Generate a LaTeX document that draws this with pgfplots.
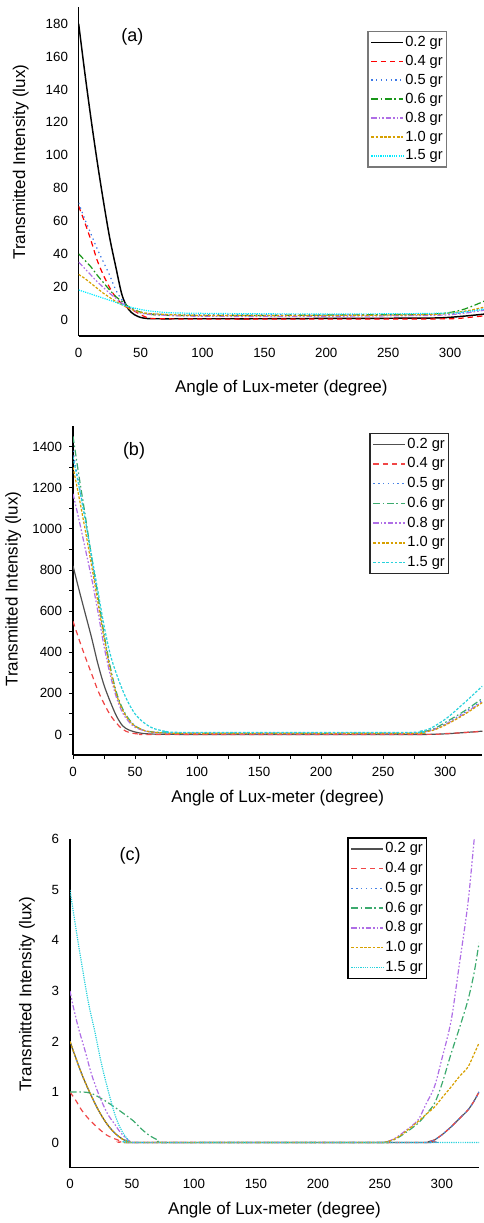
\documentclass[border=0pt]{standalone}
\usepackage{pgfplots}
\pgfplotsset{compat=1.18}
\usepackage{fontspec}
\setmainfont{Liberation Sans}

\definecolor{redA}{RGB}{255,0,0}
\definecolor{blueA}{RGB}{60,120,230}
\definecolor{greenA}{RGB}{25,150,25}
\definecolor{purpA}{RGB}{175,110,230}
\definecolor{orA}{RGB}{215,160,0}
\definecolor{cyA}{RGB}{0,235,255}
\definecolor{grayB}{RGB}{80,80,80}
\definecolor{redB}{RGB}{240,70,70}
\definecolor{blueB}{RGB}{70,130,230}
\definecolor{greenB}{RGB}{60,170,110}
\definecolor{cyB}{RGB}{40,210,220}

\pgfplotsset{
  mybase/.style={
    scale only axis, axis lines*=left, xmin=0, clip=true,
    xtick={0,50,...,300},
    /pgf/number format/assume math mode=true,
    /pgf/number format/1000 sep={},
    ticklabel style={font=\fontsize{10}{12}\selectfont},
    label style={font=\fontsize{12.75}{15}\selectfont},
    every axis plot/.append style={line width=0.9pt, smooth, tension=0.5},
    legend cell align=left,
    legend image code/.code={\draw[#1, line width=1.1pt] (0pt,0pt) -- (24pt,0pt);},
    legend style={font=\fontsize{11}{13}\selectfont, inner sep=2pt,
      row sep=1.8pt, nodes={inner sep=0.9pt, text height=8.3pt, text depth=2.3pt},
      anchor=north east},
  },
  s02/.style={solid},
  s04/.style={dash pattern=on 4pt off 3pt},
  s05/.style={dash pattern=on 1pt off 2.6pt},
  s06/.style={dash pattern=on 5pt off 2pt on 1.2pt off 2pt},
  s08/.style={dash pattern=on 4pt off 1.5pt on 1.2pt off 1.5pt on 1.2pt off 1.5pt},
  s10/.style={dash pattern=on 2pt off 1.2pt},
  s15/.style={dash pattern=on 0.9pt off 0.8pt},
}

\begin{document}
\begin{tikzpicture}
\useasboundingbox (0,0) rectangle (363pt,-917.25pt);

% ---------------- (a)
\begin{axis}[mybase,
  at={(59pt,-252pt)}, anchor=south west,
  width=304pt, height=246.5pt,
  xmax=327.4, ymin=-10, ymax=190,
  ytick={0,20,...,180},
  major tick length=0pt, minor tick num=0,
  axis line style={line width=1.1pt, black},
  yticklabel style={xshift=-4.5pt},
  xticklabel style={yshift=-5.7pt},
  xlabel={Angle of Lux-meter (degree)},
  ylabel={Transmitted Intensity (lux)},
  xlabel style={at={(axis description cs:0.5,-0.158)}, anchor=center},
  ylabel style={at={(axis description cs:-0.143,0.529)}, anchor=center},
  legend style={at={(axis description cs:0.9095,0.9288)}, draw={rgb,255:red,120;green,120;blue,120}, line width=1pt},
]
\addplot[black, s02, line width=1.1pt] coordinates {(0,180)(5,150)(10,122)(15,96)(20,72)(25,50)(30,32)(35,15)(40,6.5)(45,3)(50,1.3)(55,0.7)(60,0.5)(100,0.5)(150,0.5)(200,0.7)(250,0.8)(290,1)(310,2)(330,3.5)};
\addlegendentry{0.2 gr}
\addplot[redA, s04] coordinates {(0,69)(5,59)(10,48)(15,36)(20,27)(25,19.5)(30,13.5)(35,9.5)(40,7)(45,5.2)(50,3)(55,1.3)(60,0.6)(100,0.3)(150,0.3)(200,0.3)(250,0.3)(300,0.5)(315,1.3)(330,2.5)};
\addlegendentry{0.4 gr}
\addplot[blueA, s05] coordinates {(0,71)(5,61)(10,52)(15,43)(20,35)(25,27)(30,18)(35,12)(40,8)(45,6)(50,4.5)(60,3.5)(80,3)(150,3)(250,3)(300,3.5)(315,5)(330,7)};
\addlegendentry{0.5 gr}
\addplot[greenA, s06] coordinates {(0,40)(5,36)(10,32)(15,27)(20,22.5)(25,18)(30,14)(35,11)(40,8)(45,6)(50,4.5)(60,3)(80,2.5)(150,2.5)(250,3)(290,3.5)(310,6)(330,12)};
\addlegendentry{0.6 gr}
\addplot[purpA, s08] coordinates {(0,35)(5,31)(10,27)(15,23)(20,19.5)(25,16)(30,13)(35,10)(40,7.5)(45,5.5)(50,4)(60,3)(100,2)(200,2)(280,2.5)(300,3)(315,4.2)(330,6)};
\addlegendentry{0.8 gr}
\addplot[orA, s10] coordinates {(0,27.5)(5,25)(10,22)(15,19)(20,16)(25,13.5)(30,11)(35,9)(40,7)(45,5.5)(50,4.5)(60,3.5)(100,2.5)(200,2.5)(280,3)(300,4)(315,5.5)(330,8)};
\addlegendentry{1.0 gr}
\addplot[cyA, s15] coordinates {(0,18)(10,15.5)(20,13)(30,10.5)(37,8.5)(45,7)(51,6)(60,5)(80,4)(150,3.5)(250,3.5)(300,4)(315,5)(330,6.5)};
\addlegendentry{1.5 gr}
\end{axis}

% ---------------- (b)
\begin{axis}[mybase,
  at={(54.75pt,-566.25pt)}, anchor=south west,
  width=307pt, height=246.75pt,
  xmax=330, ymin=-100, ymax=1500,
  ytick={0,200,...,1400},
  minor tick num=1,
  tick align=outside, major tick length=3pt, minor tick length=3pt,
  tick style={black, line width=0.6pt},
  axis line style={line width=0.8pt, black},
  yticklabel style={xshift=-1.7pt},
  xticklabel style={yshift=-2.4pt},
  xlabel={Angle of Lux-meter (degree)},
  ylabel={Transmitted Intensity (lux)},
  xlabel style={at={(axis description cs:0.5,-0.1297)}, anchor=center},
  ylabel style={at={(axis description cs:-0.1459,0.504)}, anchor=center},
  legend style={at={(axis description cs:0.9194,0.9796)}, draw={rgb,255:red,40;green,40;blue,40}, line width=0.9pt, row sep=2.4pt},
]
\addplot[grayB, s02] coordinates {(0,820)(5,700)(10,585)(15,470)(20,345)(25,240)(30,160)(35,90)(40,42)(45,22)(50,12)(55,6)(60,3)(70,1)(100,0)(200,0)(280,0)(300,3)(315,9)(330,16)};
\addlegendentry{0.2 gr}
\addplot[redB, s04] coordinates {(0,550)(5,460)(10,375)(15,295)(20,215)(25,150)(30,95)(35,55)(40,25)(45,10)(50,4)(55,1)(60,0)(150,0)(280,0)(300,4)(315,9)(330,15)};
\addlegendentry{0.4 gr}
\addplot[blueB, s05] coordinates {(0,1380)(5,1210)(10,1040)(15,850)(20,665)(25,480)(30,320)(35,200)(40,120)(45,72)(50,40)(60,15)(75,8)(100,6)(270,6)(280,12)(290,24)(300,50)(315,105)(330,165)};
\addlegendentry{0.5 gr}
\addplot[greenB, s06] coordinates {(0,1450)(5,1250)(10,1060)(15,860)(20,680)(25,490)(30,330)(35,205)(40,125)(45,75)(50,42)(55,25)(60,15)(75,8)(100,6)(270,6)(280,12)(290,25)(300,58)(315,112)(330,175)};
\addlegendentry{0.6 gr}
\addplot[purpA, s08] coordinates {(0,1170)(5,1040)(10,900)(15,760)(20,600)(25,430)(30,290)(35,180)(40,105)(45,62)(50,35)(60,14)(75,6)(100,4)(270,4)(280,10)(290,22)(300,48)(315,100)(330,160)};
\addlegendentry{0.8 gr}
\addplot[orA, s10] coordinates {(0,1300)(5,1150)(10,990)(15,820)(20,645)(25,470)(30,315)(35,195)(40,118)(45,70)(50,40)(60,15)(75,7)(100,5)(270,5)(280,10)(290,20)(300,45)(315,95)(330,155)};
\addlegendentry{1.0 gr}
\addplot[cyB, s10] coordinates {(0,1350)(5,1200)(10,1040)(15,870)(20,700)(25,530)(30,390)(35,295)(40,215)(45,150)(50,100)(55,68)(60,45)(65,29)(75,15)(90,10)(270,10)(280,16)(288,29)(301,78)(315,151)(330,235)};
\addlegendentry{1.5 gr}
\end{axis}

% ---------------- (c)
\begin{axis}[mybase,
  at={(52.5pt,-875.8pt)}, anchor=south west,
  width=306.75pt, height=246.3pt,
  xmax=330, ymin=-0.5, ymax=6,
  ytick={0,1,...,6},
  major tick length=0pt, minor tick num=0,
  axis line style={line width=1pt, black},
  yticklabel style={xshift=-4.7pt},
  xticklabel style={yshift=-5.4pt},
  xlabel={Angle of Lux-meter (degree)},
  ylabel={Transmitted Intensity (lux)},
  xlabel style={at={(axis description cs:0.5,-0.1287)}, anchor=center},
  ylabel style={at={(axis description cs:-0.105,0.528)}, anchor=center},
  legend style={at={(axis description cs:0.8736,1.006)}, draw=black, line width=0.9pt, row sep=2.4pt},
]
\addplot[grayB, s02] coordinates {(0,2)(4,1.72)(9.4,1.36)(15,1.04)(22.9,0.64)(30,0.36)(36.4,0.18)(42.8,0.06)(48,0.01)(50,0)(150,0)(285,0)(290,0.02)(294,0.05)(300,0.15)(307.5,0.31)(314,0.47)(321,0.64)(326,0.82)(330,1.0)};
\addlegendentry{0.2 gr}
\addplot[redB, s04] coordinates {(0,1)(5,0.82)(9.4,0.64)(15,0.47)(22.9,0.28)(30,0.14)(36.4,0.07)(42,0.02)(46,0)(150,0)(285,0)(290,0.02)(294,0.05)(300,0.15)(307.5,0.31)(314,0.47)(321,0.64)(326,0.82)(330,1.0)};
\addlegendentry{0.4 gr}
\addplot[blueB, s05] coordinates {(0,2)(4,1.72)(9.4,1.36)(15,1.04)(22.9,0.64)(30,0.36)(36.4,0.18)(42.8,0.06)(48,0.01)(50,0)(150,0)(285,0)(290,0.02)(294,0.05)(300,0.15)(307.5,0.31)(314,0.47)(321,0.64)(326,0.82)(330,1.0)};
\addlegendentry{0.5 gr}
\addplot[greenB, s06] coordinates {(0,1.0)(5,1.0)(10,1.0)(17.5,0.97)(28,0.83)(36,0.7)(44.5,0.55)(51,0.43)(58,0.26)(64,0.14)(71.5,0.04)(76,0)(150,0)(250,0)(255,0.01)(262,0.06)(270,0.18)(280.6,0.375)(287,0.55)(294,0.77)(300,1.15)(307.5,1.76)(314,2.25)(321,2.81)(326,3.35)(330,3.95)};
\addlegendentry{0.6 gr}
\addplot[purpA, s08] coordinates {(0,3)(2.7,2.68)(7,2.25)(12.1,1.82)(17,1.38)(22.9,0.97)(30,0.58)(36.4,0.35)(40,0.22)(44.5,0.1)(48,0.03)(52,0)(150,0)(250,0)(255,0.01)(262,0.08)(270,0.22)(280.6,0.44)(287,0.75)(294,1.1)(300,1.65)(307.5,2.41)(314,3.5)(321,4.72)(326,5.97)(330,7)};
\addlegendentry{0.8 gr}
\addplot[orA, s10] coordinates {(0,2)(4,1.72)(9.4,1.36)(15,1.04)(22.9,0.64)(30,0.36)(36.4,0.18)(42.8,0.06)(48,0.01)(50,0)(150,0)(250,0)(255,0.01)(262,0.07)(270,0.2)(280.6,0.41)(287,0.55)(294,0.70)(300,0.88)(307.5,1.1)(314,1.3)(321,1.49)(326,1.75)(330,1.97)};
\addlegendentry{1.0 gr}
\addplot[cyB, s15] coordinates {(0,5)(5,4.2)(10,3.45)(15,2.75)(20,2.2)(25,1.6)(30,1.1)(35,0.65)(39,0.37)(43,0.18)(47,0.05)(50,0)(150,0)(250,0)(330,0)};
\addlegendentry{1.5 gr}
\end{axis}

\node[font=\fontsize{13.5}{16}\selectfont] at (99.25pt,-27.5pt) {(a)};
\node[font=\fontsize{13.5}{16}\selectfont] at (100.5pt,-338.25pt) {(b)};
\node[font=\fontsize{13.5}{16}\selectfont] at (97.5pt,-642pt) {(c)};
\end{tikzpicture}
\end{document}
